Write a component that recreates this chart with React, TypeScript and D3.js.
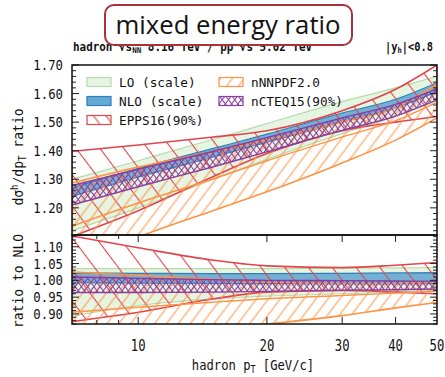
import React from "react";
import * as d3 from "d3";

// ---------- data ----------
const pT = [7, 10, 15, 20, 30, 40, 50];

// upper panel: cross-section ratio
const loTopHi = [1.300, 1.365, 1.440, 1.495, 1.572, 1.620, 1.660];
const loTopLo = [1.120, 1.200, 1.300, 1.370, 1.460, 1.520, 1.575];
const nloTopHi = [1.270, 1.338, 1.408, 1.458, 1.532, 1.580, 1.638];
const nloTopLo = [1.240, 1.308, 1.378, 1.430, 1.500, 1.550, 1.606];
const eppsTopHi = [1.398, 1.420, 1.448, 1.470, 1.540, 1.615, 1.700];
const eppsTopLo = [1.100, 1.190, 1.310, 1.390, 1.470, 1.500, 1.520];
const nnpdfTopHi = [1.287, 1.343, 1.397, 1.437, 1.501, 1.550, 1.632];
const nnpdfTopMid = [1.136, 1.217, 1.302, 1.365, 1.448, 1.505, 1.570];
const nnpdfTopLo = [1.004, 1.098, 1.191, 1.256, 1.357, 1.437, 1.515];
const cteqTopHi = [1.278, 1.335, 1.398, 1.446, 1.515, 1.562, 1.616];
const cteqTopLo = [1.210, 1.274, 1.344, 1.396, 1.471, 1.521, 1.578];

// lower panel: ratio to NLO
const loRatHi = [1.035, 1.035, 1.035, 1.035, 1.036, 1.037, 1.038];
const loRatLo = [0.893, 0.925, 0.945, 0.953, 0.960, 0.965, 0.970];
const nloRatHi = [1.022, 1.021, 1.020, 1.020, 1.021, 1.022, 1.023];
const nloRatLo = [0.993, 0.992, 0.991, 0.990, 0.990, 0.990, 0.990];
const eppsRatHi = [1.132, 1.097, 1.060, 1.043, 1.038, 1.045, 1.053];
const eppsRatLo = [0.877, 0.905, 0.945, 0.965, 0.970, 0.965, 0.960];
const nnpdfRatHi = [1.025, 1.015, 1.003, 0.995, 0.990, 0.990, 0.995];
const nnpdfRatMid = [0.905, 0.920, 0.935, 0.945, 0.955, 0.962, 0.968];
const nnpdfRatLo = [0.800, 0.830, 0.855, 0.870, 0.895, 0.918, 0.934];
const cteqRatHi = [1.010, 1.006, 1.002, 1.000, 0.999, 0.998, 0.997];
const cteqRatLo = [0.964, 0.964, 0.965, 0.967, 0.970, 0.972, 0.974];

// ticks / labels
const xTickLabels = [10, 20, 30, 40, 50];
const xMinorTicks = [8, 9];
const yTopTickLabels = [1.2, 1.3, 1.4, 1.5, 1.6, 1.7];
const yBotTickLabels = [0.9, 0.95, 1.0, 1.05, 1.1];
const legendLabels = ["LO (scale)", "NLO (scale)", "EPPS16(90%)", "nNNPDF2.0", "nCTEQ15(90%)"];

// ---------- style ----------
const W = 445, H = 377;
const L = 72, R = 437, T1 = 65, B1 = 235, B2 = 324;
const MONO = "'DejaVu Sans Mono', monospace";
const C_LO_F = "#e7f4e2", C_LO_S = "#b4dcab";
const C_NLO_F = "#66a9d4", C_NLO_S = "#2f7fb9";
const C_EPPS = "#e0454b";
const C_NNPDF = "#fd9344";
const C_CTEQ = "#8a3ca0";

const x = d3.scaleLog().domain([7, 50]).range([L, R]);
const yTop = d3.scaleLinear().domain([1.105, 1.70]).range([B1, T1]);
const yBot = d3.scaleLinear().domain([0.87, 1.135]).range([B2, B1]);

function areaPath(y: any, lo: number[], hi: number[]) {
  const a = d3.area<number>()
    .x((_, i) => x(pT[i]))
    .y0((_, i) => y(lo[i]))
    .y1((_, i) => y(hi[i]))
    .curve(d3.curveMonotoneX);
  return a(pT) as string;
}
function linePath(y: any, v: number[]) {
  const l = d3.line<number>()
    .x((_, i) => x(pT[i]))
    .y((_, i) => y(v[i]))
    .curve(d3.curveMonotoneX);
  return l(pT) as string;
}

function Txt(props: any) {
  const { x: tx, y: ty, sx = 1, rot = 0, size = 13, anchor = "start", weight = "normal", fill = "#111", family = MONO, children } = props;
  return (
    <text
      transform={`translate(${tx},${ty}) rotate(${rot}) scale(${sx},1)`}
      fontFamily={family}
      fontSize={size}
      fontWeight={weight}
      textAnchor={anchor}
      fill={fill}
    >
      {children}
    </text>
  );
}

function Bands({ y, lo, nlo, epps, nnpdf, cteq, clip }: any) {
  return (
    <g clipPath={`url(#${clip})`}>
      <path d={areaPath(y, lo[0], lo[1])} fill={C_LO_F} stroke={C_LO_S} strokeWidth={1.2} />
      <path d={areaPath(y, nlo[0], nlo[1])} fill={C_NLO_F} fillOpacity={0.9} stroke={C_NLO_S} strokeWidth={1.2} />
      <path d={areaPath(y, epps[0], epps[1])} fill="url(#hEpps)" stroke={C_EPPS} strokeWidth={1.6} />
      <path d={areaPath(y, nnpdf[0], nnpdf[2])} fill="url(#hNnpdf)" stroke={C_NNPDF} strokeWidth={1.6} />
      <path d={linePath(y, nnpdf[1])} fill="none" stroke={C_NNPDF} strokeWidth={1.4} />
      <path d={areaPath(y, cteq[0], cteq[1])} fill="url(#hCteqA)" stroke={C_CTEQ} strokeWidth={1.4} />
      <path d={areaPath(y, cteq[0], cteq[1])} fill="url(#hCteqB)" stroke="none" />
    </g>
  );
}

function YTicks({ y, lo, hi, major, minor, labels, fmt }: any) {
  const out: any[] = [];
  const n = Math.round((hi - lo) / minor);
  for (let k = 0; k <= n; k++) {
    const v = lo + k * minor;
    const isMajor = Math.abs(v / major - Math.round(v / major)) < 1e-6;
    const len = isMajor ? 7 : 4;
    const py = y(v);
    out.push(<line key={"l" + k} x1={L} x2={L + len} y1={py} y2={py} stroke="#222" strokeWidth={1} />);
    out.push(<line key={"r" + k} x1={R} x2={R - len} y1={py} y2={py} stroke="#222" strokeWidth={1} />);
  }
  labels.forEach((v: number, i: number) => {
    out.push(
      <Txt key={"t" + i} x={63} y={y(v) + 5} size={14} sx={0.88} anchor="end">{fmt(v)}</Txt>
    );
  });
  return <g>{out}</g>;
}

export default function App() {
  const fmt2 = d3.format(".2f");
  const swW = 24, swH = 9;
  const legendRows = [82, 101, 120];
  const legendItems = [
    { col: 0, row: 0, fill: C_LO_F, stroke: C_LO_S },
    { col: 0, row: 1, fill: C_NLO_F, stroke: C_NLO_S },
    { col: 0, row: 2, fill: "url(#hEppsL)", stroke: C_EPPS },
    { col: 1, row: 0, fill: "url(#hNnpdf)", stroke: C_NNPDF },
    { col: 1, row: 1, fill: "url(#hCteqA)", stroke: C_CTEQ, fill2: "url(#hCteqB)" },
  ];
  const colX = [87, 219];

  return (
    <svg width={W} height={H} style={{ position: "absolute", left: 0, top: 0, background: "#fff" }}>
      <defs>
        <clipPath id="clipTop"><rect x={L} y={T1} width={R - L} height={B1 - T1} /></clipPath>
        <clipPath id="clipBot"><rect x={L} y={B1} width={R - L} height={B2 - B1} /></clipPath>
        <pattern id="hEpps" patternUnits="userSpaceOnUse" width={19} height={19} patternTransform="rotate(-37)">
          <line x1={9.5} y1={0} x2={9.5} y2={19} stroke={C_EPPS} strokeWidth={1.1} />
        </pattern>
        <pattern id="hEppsL" patternUnits="userSpaceOnUse" width={10} height={10} patternTransform="rotate(-37)">
          <line x1={5} y1={0} x2={5} y2={10} stroke={C_EPPS} strokeWidth={1.1} />
        </pattern>
        <pattern id="hNnpdf" patternUnits="userSpaceOnUse" width={9.5} height={9.5} patternTransform="rotate(37)">
          <line x1={4.75} y1={0} x2={4.75} y2={9.5} stroke={C_NNPDF} strokeWidth={1} />
        </pattern>
        <pattern id="hCteqA" patternUnits="userSpaceOnUse" width={5} height={5} patternTransform="rotate(37)">
          <line x1={2.5} y1={0} x2={2.5} y2={5} stroke={C_CTEQ} strokeWidth={1} />
        </pattern>
        <pattern id="hCteqB" patternUnits="userSpaceOnUse" width={5} height={5} patternTransform="rotate(-37)">
          <line x1={2.5} y1={0} x2={2.5} y2={5} stroke={C_CTEQ} strokeWidth={1} />
        </pattern>
      </defs>

      {/* upper panel */}
      <Bands
        y={yTop}
        clip="clipTop"
        lo={[loTopLo, loTopHi]}
        nlo={[nloTopLo, nloTopHi]}
        epps={[eppsTopLo, eppsTopHi]}
        nnpdf={[nnpdfTopLo, nnpdfTopMid, nnpdfTopHi]}
        cteq={[cteqTopLo, cteqTopHi]}
      />
      {/* lower panel */}
      <Bands
        y={yBot}
        clip="clipBot"
        lo={[loRatLo, loRatHi]}
        nlo={[nloRatLo, nloRatHi]}
        epps={[eppsRatLo, eppsRatHi]}
        nnpdf={[nnpdfRatLo, nnpdfRatMid, nnpdfRatHi]}
        cteq={[cteqRatLo, cteqRatHi]}
      />

      {/* legend */}
      <g>
        {legendItems.map((it, i) => (
          <g key={i}>
            <rect x={colX[it.col]} y={legendRows[it.row] - swH / 2} width={swW} height={swH} fill="#fff" />
            <rect x={colX[it.col]} y={legendRows[it.row] - swH / 2} width={swW} height={swH} fill={it.fill} stroke={it.stroke} strokeWidth={1.2} />
            {it.fill2 && <rect x={colX[it.col]} y={legendRows[it.row] - swH / 2} width={swW} height={swH} fill={it.fill2} />}
            <Txt x={colX[it.col] + 32} y={legendRows[it.row] + 5} size={13} sx={0.98}>{legendLabels[i]}</Txt>
          </g>
        ))}
      </g>

      {/* y ticks */}
      <YTicks y={yTop} lo={1.12} hi={1.70} major={0.1} minor={0.02} labels={yTopTickLabels} fmt={fmt2} />
      <YTicks y={yBot} lo={0.87} hi={1.13} major={0.05} minor={0.01} labels={yBotTickLabels} fmt={fmt2} />

      {/* x ticks on lower panel (top & bottom) */}
      <g>
        {xTickLabels.filter((v) => v < 50).map((v) => (
          <g key={"xt" + v}>
            <line x1={x(v)} x2={x(v)} y1={B1} y2={B1 + 7} stroke="#222" />
            <line x1={x(v)} x2={x(v)} y1={B2} y2={B2 - 7} stroke="#222" />
          </g>
        ))}
        {xMinorTicks.map((v) => (
          <g key={"xm" + v}>
            <line x1={x(v)} x2={x(v)} y1={B1} y2={B1 + 4} stroke="#222" />
            <line x1={x(v)} x2={x(v)} y1={B2} y2={B2 - 4} stroke="#222" />
          </g>
        ))}
        {xTickLabels.map((v) => (
          <Txt key={"xl" + v} x={x(v)} y={351} size={15} sx={0.82} anchor="middle">{String(v)}</Txt>
        ))}
      </g>

      {/* frames */}
      <rect x={L} y={T1} width={R - L} height={B1 - T1} fill="none" stroke="#111" strokeWidth={1.5} />
      <rect x={L} y={B1} width={R - L} height={B2 - B1} fill="none" stroke="#111" strokeWidth={1.5} />

      {/* axis labels */}
      <Txt x={23} y={157} rot={-90} size={14.5} sx={0.9} anchor="middle">
        dσ<tspan dy={-5} fontSize={10}>h</tspan><tspan dy={5}>/dp</tspan><tspan dy={3} fontSize={10}>T</tspan><tspan dy={-3}> ratio</tspan>
      </Txt>
      <Txt x={23} y={281} rot={-90} size={14.5} sx={0.9} anchor="middle">ratio to NLO</Txt>
      <Txt x={253} y={370} size={14.5} sx={0.84} anchor="middle">
        hadron p<tspan dy={3} fontSize={10}>T</tspan><tspan dy={-3}> [GeV/c]</tspan>
      </Txt>

      {/* subtitle (partly hidden by title box) */}
      <Txt x={73} y={51} size={11.5} sx={0.95} weight="bold">
        hadron  √s<tspan dy={2} fontSize={8}>NN</tspan><tspan dy={-2}> 8.16 TeV / pp √s 5.02 TeV</tspan>
      </Txt>
      <Txt x={385} y={51} size={11.5} sx={0.9} weight="bold">
        |y<tspan dy={2} fontSize={8}>h</tspan><tspan dy={-2}>|&lt;0.8</tspan>
      </Txt>

      {/* title box */}
      <rect x={105} y={5} width={247} height={40} rx={9} ry={9} fill="#fff" stroke="#a8323c" strokeWidth={2} />
      <text x={228} y={34} textAnchor="middle" fontFamily="'Open Sans', 'DejaVu Sans', sans-serif" fontSize={25} fill="#111" textLength={225} lengthAdjust="spacingAndGlyphs">
        mixed energy ratio
      </text>
    </svg>
  );
}
